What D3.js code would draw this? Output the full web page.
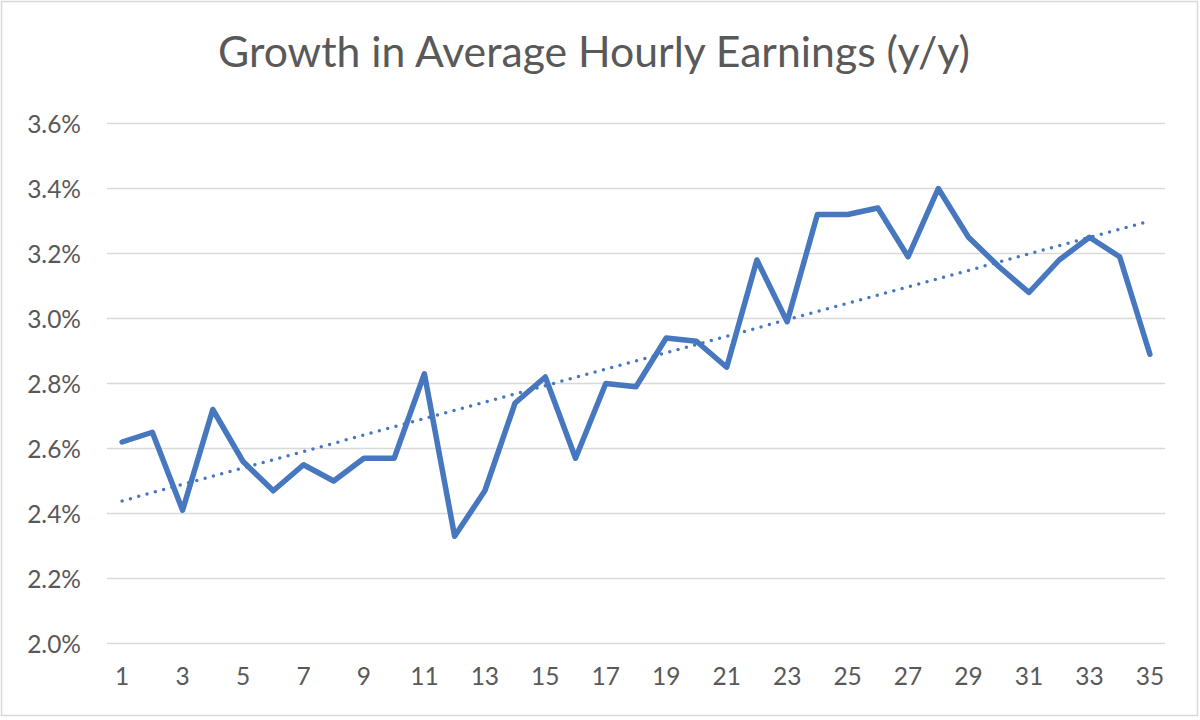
<!DOCTYPE html>
<html>
<head>
<meta charset="utf-8">
<script src="https://cdn.jsdelivr.net/npm/d3@7"></script>
<style>
  html, body { margin: 0; padding: 0; background: #fff; }
  svg { display: block; }
</style>
</head>
<body>
<svg id="chart" width="1200" height="720"></svg>
<script>
const title = "Growth in Average Hourly Earnings (y/y)";
const periods = d3.range(1, 36);
const growth = [
  2.62, 2.65, 2.41, 2.72, 2.56, 2.47, 2.55, 2.50, 2.57, 2.57,
  2.83, 2.33, 2.47, 2.74, 2.82, 2.57, 2.80, 2.79, 2.94, 2.93,
  2.85, 3.18, 2.99, 3.32, 3.32, 3.34, 3.19, 3.40, 3.25, 3.16,
  3.08, 3.18, 3.25, 3.19, 2.89
];
const yTicks = [2.0, 2.2, 2.4, 2.6, 2.8, 3.0, 3.2, 3.4, 3.6];
const xTickLabels = periods.filter(p => p % 2 === 1);

const svg = d3.select("#chart");
const font = "Lato, 'Open Sans', sans-serif";
const textColor = "#595959";
const lineColor = "#4677BF";

// outer border
svg.append("rect").attr("x", 1.5).attr("y", 1.5).attr("width", 1196).attr("height", 714)
  .attr("fill", "#fff").attr("stroke", "#d9d9d9").attr("stroke-width", 1.5);

const plot = { left: 107, right: 1165, top: 123.5, bottom: 643.5 };

const x = d3.scaleBand().domain(periods).range([plot.left, plot.right]);
const y = d3.scaleLinear().domain([2.0, 3.6]).range([plot.bottom, plot.top]);
const cx = d => x(d) + x.bandwidth() / 2;

// gridlines
svg.append("g").selectAll("line").data(yTicks).join("line")
  .attr("x1", plot.left).attr("x2", plot.right)
  .attr("y1", d => y(d)).attr("y2", d => y(d))
  .attr("stroke", "#d9d9d9").attr("stroke-width", 1.5);

// y axis labels
const yAxis = d3.axisLeft(y).tickValues(yTicks).tickFormat(d => d.toFixed(1) + "%").tickSize(0).tickPadding(0);
const gy = svg.append("g").attr("transform", "translate(81,0)").call(yAxis);
gy.select(".domain").remove();
gy.selectAll("text").attr("font-family", font).attr("font-size", 24.5).attr("fill", textColor).attr("dy", "0.36em");

// x axis labels
const xAxis = d3.axisBottom(x).tickValues(xTickLabels).tickSize(0).tickPadding(0);
const gx = svg.append("g").attr("transform", "translate(0,668)").call(xAxis);
gx.select(".domain").remove();
gx.selectAll("text").attr("font-family", font).attr("font-size", 24.5).attr("fill", textColor).attr("dy", "0.71em");

// trend line (least squares)
const n = periods.length;
const mx = d3.mean(periods), my = d3.mean(growth);
const slope = d3.sum(periods, (p, i) => (p - mx) * (growth[i] - my)) / d3.sum(periods, p => (p - mx) ** 2);
const intercept = my - slope * mx;
const trendPts = [periods[0], periods[n - 1]].map(p => [cx(p), y(intercept + slope * p)]);
svg.append("path").attr("d", d3.line()(trendPts))
  .attr("fill", "none").attr("stroke", lineColor).attr("stroke-width", 3.5)
  .attr("stroke-linecap", "round").attr("stroke-dasharray", "0 8.6");

// data line
const line = d3.line().x((d, i) => cx(periods[i])).y(d => y(d));
svg.append("path").datum(growth).attr("d", line)
  .attr("fill", "none").attr("stroke", lineColor).attr("stroke-width", 5.5)
  .attr("stroke-linejoin", "round").attr("stroke-linecap", "round");

// title
const t = svg.append("text").attr("x", 594).attr("y", 67).attr("text-anchor", "middle")
  .attr("font-family", font).attr("font-size", 38).attr("fill", textColor).text(title);
const w = t.node().getComputedTextLength();
t.attr("font-size", 38 * 752 / w);
</script>
</body>
</html>
